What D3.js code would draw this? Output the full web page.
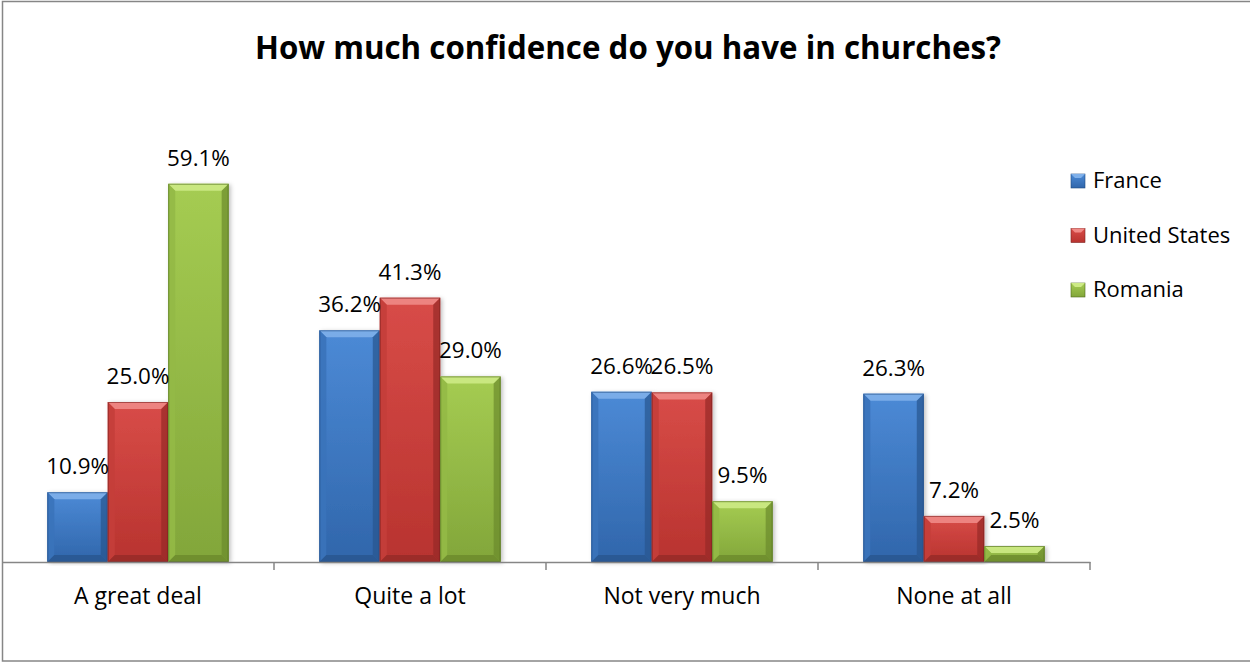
<!DOCTYPE html>
<html>
<head>
<meta charset="utf-8">
<script src="https://cdn.jsdelivr.net/npm/d3@7"></script>
<style>
  html, body { margin: 0; padding: 0; background: #fff; }
  svg { display: block; }
  text { font-family: "Open Sans", Lato, "DejaVu Sans", sans-serif; fill: #000; }
</style>
</head>
<body>
<svg id="chart" width="1250" height="662"></svg>
<script>
// Survey answers per country (percent of respondents)
const categories = ["A great deal", "Quite a lot", "Not very much", "None at all"];
const seriesNames = ["France", "United States", "Romania"];
const france = [10.9, 36.2, 26.6, 26.3];
const unitedStates = [25.0, 41.3, 26.5, 7.2];
const romania = [59.1, 29.0, 9.5, 2.5];
const seriesValues = [france, unitedStates, romania];
const yDomain = [0, 70];
const titleText = "How much confidence do you have in churches?";

// Bevelled fills: body gradient (top, bottom), top bevel, side and bottom bevels, edge
const palette = [
  { top: "#4c8ad6", bottom: "#3066ab", light: "#7fb0ea", side: "#3a73ba", dark: "#28558f", edge: "#1f4a80" },
  { top: "#d84c48", bottom: "#b8332f", light: "#f08a86", side: "#c43e3a", dark: "#952a27", edge: "#7d2220" },
  { top: "#a5cc52", bottom: "#82a63a", light: "#cdea85", side: "#94b946", dark: "#6b8a2c", edge: "#4f6a1c" }
];

const svg = d3.select("#chart");
const W = 1250, H = 662;

// Outer chart border
svg.append("rect")
  .attr("x", 2.5).attr("y", 1.5)
  .attr("width", W + 10).attr("height", H - 2.5)
  .attr("fill", "#fff").attr("stroke", "#868686").attr("stroke-width", 1.5);

const defs = svg.append("defs");
palette.forEach((p, i) => {
  const g = defs.append("linearGradient")
    .attr("id", "body" + i).attr("x1", 0).attr("y1", 0).attr("x2", 0).attr("y2", 1);
  g.append("stop").attr("offset", "0%").attr("stop-color", p.top);
  g.append("stop").attr("offset", "100%").attr("stop-color", p.bottom);
});
const shadow = defs.append("filter").attr("id", "shadow")
  .attr("x", "-20%").attr("y", "-5%").attr("width", "140%").attr("height", "110%");
shadow.append("feDropShadow")
  .attr("dx", 2).attr("dy", 1).attr("stdDeviation", 2)
  .attr("flood-color", "#000").attr("flood-opacity", 0.25);

const plotLeft = 2, plotRight = 1090, plotTop = 114, plotBottom = 562;

const x0 = d3.scaleBand().domain(categories).range([plotLeft, plotRight]).padding(0);
const x1 = d3.scaleBand().domain(seriesNames).range([0, x0.bandwidth()])
  .paddingInner(0).paddingOuter(0.75);
const y = d3.scaleLinear().domain(yDomain).range([plotBottom, plotTop]);

// Title
svg.append("text")
  .attr("x", 628).attr("y", 59)
  .attr("text-anchor", "middle")
  .style("font-size", "31.3px").style("font-weight", "bold")
  .text(titleText);

// Bars
const rows = [];
seriesNames.forEach((s, si) => {
  categories.forEach((c, ci) => {
    rows.push({ series: s, si, category: c, value: seriesValues[si][ci] });
  });
});

const bars = svg.append("g").selectAll("g.bar").data(rows).join("g").attr("class", "bar");

bars.each(function (d) {
  const g = d3.select(this);
  const p = palette[d.si];
  const bx = x0(d.category) + x1(d.series);
  const bw = x1.bandwidth();
  const by = y(d.value);
  const bh = y(0) - y(d.value);
  const b = Math.min(7, bh / 2, bw / 2);
  const pts = a => a.map(q => q.join(",")).join(" ");

  g.append("rect")
    .attr("x", bx).attr("y", by).attr("width", bw).attr("height", bh)
    .attr("fill", `url(#body${d.si})`).attr("filter", "url(#shadow)");
  // bevel facets
  g.append("polygon").attr("fill", p.light).attr("opacity", 0.9)
    .attr("points", pts([[bx, by], [bx + bw, by], [bx + bw - b, by + b], [bx + b, by + b]]));
  g.append("polygon").attr("fill", p.side).attr("opacity", 0.9)
    .attr("points", pts([[bx, by], [bx + b, by + b], [bx + b, by + bh - b], [bx, by + bh]]));
  g.append("polygon").attr("fill", p.dark).attr("opacity", 0.7)
    .attr("points", pts([[bx + bw, by], [bx + bw, by + bh], [bx + bw - b, by + bh - b], [bx + bw - b, by + b]]));
  g.append("polygon").attr("fill", p.dark).attr("opacity", 0.8)
    .attr("points", pts([[bx, by + bh], [bx + b, by + bh - b], [bx + bw - b, by + bh - b], [bx + bw, by + bh]]));
  g.append("rect")
    .attr("x", bx + 0.5).attr("y", by + 0.5).attr("width", bw - 1).attr("height", Math.max(0, bh - 1))
    .attr("fill", "none").attr("stroke", p.edge).attr("stroke-width", 1).attr("opacity", 0.6);
});

// Value labels
svg.append("g").selectAll("text").data(rows).join("text")
  .attr("x", d => x0(d.category) + x1(d.series) + x1.bandwidth() / 2)
  .attr("y", d => y(d.value) - 18)
  .attr("text-anchor", "middle")
  .style("font-size", "22.4px")
  .text(d => d.value.toFixed(1) + "%");

// Category axis
const axis = svg.append("g")
  .attr("transform", `translate(0,${plotBottom})`)
  .call(d3.axisBottom(x0).tickSize(0).tickSizeOuter(0).tickPadding(26));
axis.select(".domain").attr("stroke", "#868686").attr("stroke-width", 1.5);
axis.selectAll(".tick text")
  .style("font-size", "23px")
  .style("font-family", "'Open Sans', Lato, sans-serif")
  .attr("fill", "#000");
// Boundary tick marks between categories
axis.append("g").selectAll("line").data(categories).join("line")
  .attr("x1", d => x0(d) + x0.bandwidth()).attr("x2", d => x0(d) + x0.bandwidth())
  .attr("y1", 0).attr("y2", 8)
  .attr("stroke", "#868686").attr("stroke-width", 1.5);

// Legend
const legend = svg.append("g").attr("transform", "translate(1071,174)");
const items = legend.selectAll("g").data(seriesNames).join("g")
  .attr("transform", (d, i) => `translate(0,${i * 54.5})`);
items.append("rect")
  .attr("x", 0).attr("y", 0).attr("width", 14).attr("height", 14)
  .attr("fill", (d, i) => `url(#body${i})`)
  .attr("stroke", (d, i) => palette[i].edge).attr("stroke-width", 0.6);
items.append("polygon")
  .attr("points", "0,0 14,0 10,4 4,4")
  .attr("fill", (d, i) => palette[i].light);
items.append("text")
  .attr("x", 22).attr("y", 14)
  .style("font-size", "22px")
  .text(d => d);
</script>
</body>
</html>
